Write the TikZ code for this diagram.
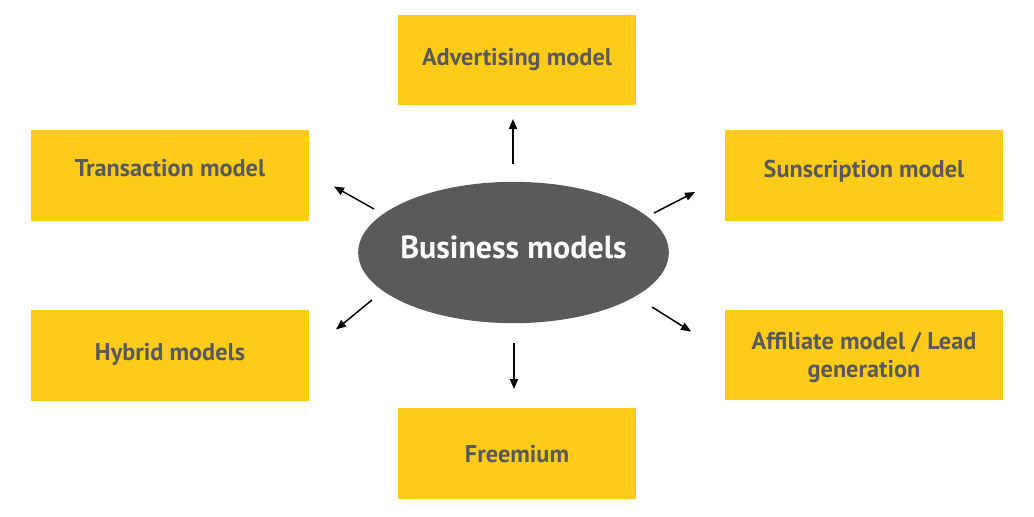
\documentclass[tikz,border=0pt]{standalone}
\usepackage{fontspec}
\setmainfont{PT Sans}
\usepackage{tikz}
\usetikzlibrary{shapes.geometric}
\usetikzlibrary{arrows.meta}

\definecolor{boxyellow}{RGB}{254,204,24}
\definecolor{boxtext}{RGB}{88,89,91}
\definecolor{hubgray}{RGB}{90,90,90}

\begin{document}
\begin{tikzpicture}[
        x=0.75pt,
        y=-0.75pt,
        >={Triangle[length=7.5pt, width=6pt]},
        model/.style={fill=boxyellow, text=boxtext, inner sep=0pt,
            align=center, font=\fontsize{18.2}{20.3}\selectfont\bfseries},
        smallbox/.style={model, minimum width=178.5pt, minimum height=68pt},
        widebox/.style={model, minimum width=208.5pt, minimum height=68pt},
        drop/.style={text height=#1, text depth=0pt},
        hub/.style={ellipse, fill=hubgray, text=white, inner ysep=0pt,
            inner xsep=-6pt, minimum width=233pt, minimum height=106pt,
            font=\fontsize{24}{28}\selectfont\bfseries},
        link/.style={->, line width=1.1pt}
    ]
        \useasboundingbox (0, 0) rectangle (1034, 517);
        \fill[white] (0, 0) rectangle (1034, 517);

        \node[hub, drop=9pt] (bm) at (513.5, 252.5) {Business models};

        \node[smallbox, drop=7.5pt] (adv) at (517, 60) {Advertising model};
        \node[widebox, drop=1.8pt] (trans) at (170, 175.5) {Transaction model};
        \node[widebox, drop=2.7pt] (subs) at (864, 175.5) {Sunscription model};
        \node[widebox, drop=6.75pt] (hyb) at (170, 355.5) {Hybrid models};
        \node[widebox, drop=33pt] (aff) at (864, 355) {Affiliate model / Lead\\generation};
        \node[smallbox, drop=13.5pt] (free) at (517, 453.5) {Freemium};

        % arrow ends, they stop short of the boxes
        \coordinate (advS) at (513, 164);
        \coordinate (advT) at (513, 119);
        \coordinate (freeS) at (514, 343);
        \coordinate (freeT) at (514, 389);
        \coordinate (transS) at (374, 209);
        \coordinate (transT) at (334, 186.5);
        \coordinate (subsS) at (654, 213);
        \coordinate (subsT) at (695, 192);
        \coordinate (hybS) at (372, 300);
        \coordinate (hybT) at (336, 329.5);
        \coordinate (affS) at (652, 307);
        \coordinate (affT) at (691, 331.5);

        \draw[link] (advS) -- (advT);
        \draw[link] (freeS) -- (freeT);
        \draw[link] (transS) -- (transT);
        \draw[link] (subsS) -- (subsT);
        \draw[link] (hybS) -- (hybT);
        \draw[link] (affS) -- (affT);

    \end{tikzpicture}
\end{document}
